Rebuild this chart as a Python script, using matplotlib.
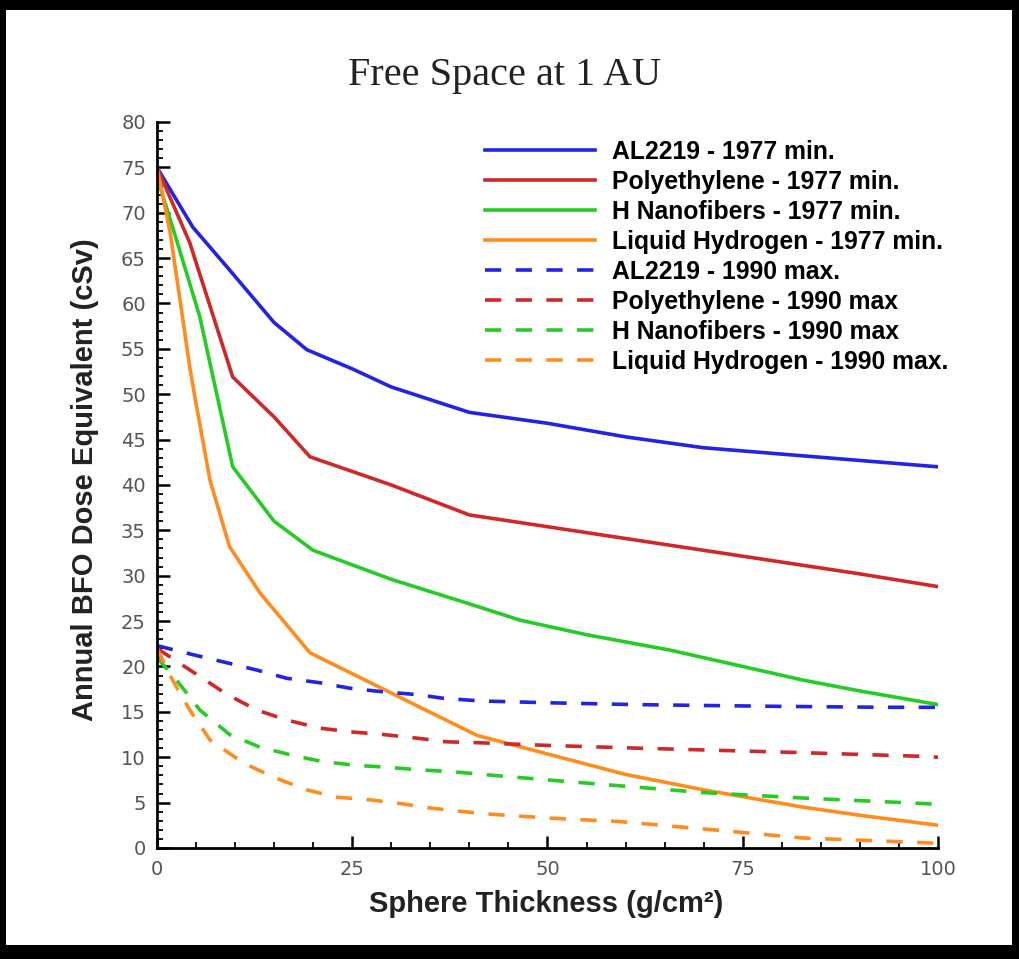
import numpy as np
import matplotlib
matplotlib.use("Agg")
import matplotlib.pyplot as plt
from matplotlib.patches import Rectangle
from matplotlib.ticker import MultipleLocator

# values
x_al_min = [0, 4.6, 9, 15, 19.2, 25, 30, 40, 50, 60, 70, 80, 90, 100]
al_min = [75, 68.4, 64, 57.9, 54.9, 52.8, 50.8, 48, 46.8, 45.3, 44.1, 43.4, 42.7, 42]

x_pe_min = [0, 4.2, 9.7, 15, 19.6, 30, 40, 50, 60, 70, 80, 90, 100]
pe_min = [75, 66.7, 51.9, 47.5, 43.1, 40, 36.7, 35.4, 34.1, 32.8, 31.5, 30.2, 28.8]

x_hn_min = [0, 2.9, 5.5, 9.7, 15, 20, 30, 40, 46.5, 55, 65.7, 75, 82.7, 90, 100]
hn_min = [74, 65.9, 58.5, 42, 36, 32.8, 29.6, 26.9, 25.1, 23.5, 21.8, 20, 18.5, 17.3, 15.8]

x_lh_min = [0, 1.7, 4.2, 5, 6.8, 9.3, 13.2, 19.6, 29, 41, 52.9, 60, 70, 82.7, 90, 100]
lh_min = [75, 67.8, 53, 49, 40.5, 33.2, 28.1, 21.5, 17.5, 12.4, 9.7, 8.1, 6.4, 4.5, 3.6, 2.5]

x_al_max = [0, 4.6, 9, 12.8, 16.6, 20.9, 24.7, 29, 33.3, 36.6, 41.4, 50, 61, 70, 80, 93.5, 100]
al_max = [22.3, 21.3, 20.4, 19.6, 18.7, 18.2, 17.6, 17.2, 16.9, 16.5, 16.2, 16, 15.8, 15.7, 15.6, 15.5, 15.5]

x_pe_max = [0, 4.6, 9, 12.8, 16.6, 20.9, 24.7, 29, 33.3, 37, 41, 50, 61.4, 70, 82.7, 97.7, 100]
pe_max = [22, 19.4, 16.9, 15.2, 14.1, 13.2, 12.8, 12.5, 12.1, 11.7, 11.6, 11.3, 11, 10.8, 10.5, 10.1, 10]

x_hn_max = [0, 2.5, 5.5, 9.3, 13.2, 17.4, 21.3, 25.6, 29.4, 33.7, 37.9, 41.7, 50, 61.4, 70, 82.7, 98, 100]
hn_max = [21, 18.5, 15.2, 12.5, 11.1, 10.2, 9.5, 9.1, 8.9, 8.6, 8.4, 8.1, 7.5, 6.7, 6.1, 5.5, 4.9, 4.8]

x_lh_max = [0, 2, 4.2, 6.8, 11, 14.9, 19.2, 23, 27.3, 31.1, 35, 39.2, 43, 50, 59.3, 71.2, 82.7, 99, 100]
lh_max = [22, 18.5, 15.2, 11.9, 9.4, 7.8, 6.4, 5.6, 5.3, 4.9, 4.4, 4.0, 3.7, 3.3, 2.9, 2.0, 1.1, 0.55, 0.5]

labels = ["AL2219 - 1977 min.", "Polyethylene - 1977 min.",
          "H Nanofibers - 1977 min.", "Liquid Hydrogen - 1977 min.",
          "AL2219 - 1990 max.", "Polyethylene - 1990 max",
          "H Nanofibers - 1990 max", "Liquid Hydrogen - 1990 max."]

blue, red, green, orange = "#2323e6", "#d02828", "#26cc26", "#ff8c1e"

fig = plt.figure(figsize=(10.19, 9.59), dpi=100, facecolor="black")
fig.patches.append(Rectangle((6 / 1019, 1 - 945 / 959), (1012 - 6) / 1019, (945 - 10) / 959,
                             transform=fig.transFigure, facecolor="white",
                             edgecolor="none", zorder=0))

ax = fig.add_axes([0.154, 0.1158, 0.7665, 0.757])
ax.set_facecolor("none")
ax.set_zorder(2)

lw = 2.6
ax.plot(x_al_min, al_min, color=blue, lw=lw, label=labels[0])
ax.plot(x_pe_min, pe_min, color=red, lw=lw, label=labels[1])
ax.plot(x_hn_min, hn_min, color=green, lw=lw, label=labels[2])
ax.plot(x_lh_min, lh_min, color=orange, lw=lw, label=labels[3])
dash = (4.5, 4)
ax.plot(x_al_max, al_max, color=blue, lw=lw, dashes=dash, label=labels[4])
ax.plot(x_pe_max, pe_max, color=red, lw=lw, dashes=dash, label=labels[5])
ax.plot(x_hn_max, hn_max, color=green, lw=lw, dashes=dash, label=labels[6])
ax.plot(x_lh_max, lh_max, color=orange, lw=lw, dashes=dash, label=labels[7])

ax.set_xlim(0, 100)
ax.set_ylim(0, 80)
ax.xaxis.set_major_locator(MultipleLocator(25))
ax.xaxis.set_minor_locator(MultipleLocator(5))
ax.yaxis.set_major_locator(MultipleLocator(5))
ax.yaxis.set_minor_locator(MultipleLocator(1))

for side in ["top", "right"]:
    ax.spines[side].set_visible(False)
for side in ["left", "bottom"]:
    ax.spines[side].set_linewidth(2)

ax.tick_params(which="major", direction="in", length=9, width=1.8,
               labelsize=14, labelcolor="#555555", pad=8)
ax.tick_params(which="minor", direction="in", length=4.5, width=1.3)
ax.tick_params(axis="x", which="major", pad=9)

ax.set_ylabel("Annual BFO Dose Equivalent (cSv)", fontsize=21,
              family="Liberation Sans", fontweight="bold", color="#222222",
              va="center")
ax.yaxis.set_label_coords(-0.092, 0.507)
ax.set_xlabel("Sphere Thickness (g/cm²)", fontsize=21,
              family="Liberation Sans", fontweight="bold", color="#222222",
              va="center")
ax.xaxis.set_label_coords(0.498, -0.077)

fig.text(0.4956, 1 - 76 / 959, "Free Space at 1 AU", fontsize=29,
         family="Liberation Serif", color="#222222", ha="center", va="center",
         zorder=3)

ax.legend(loc="upper left", bbox_to_anchor=(485 / 1019, 1 - 140 / 959),
          bbox_transform=fig.transFigure, frameon=False, borderpad=0,
          borderaxespad=0, handlelength=4.45, handletextpad=0.69,
          labelspacing=0.24,
          prop={"family": "Liberation Sans", "size": 17.8, "weight": "bold"})

fig.savefig("out.png", dpi=100, facecolor=fig.get_facecolor())
